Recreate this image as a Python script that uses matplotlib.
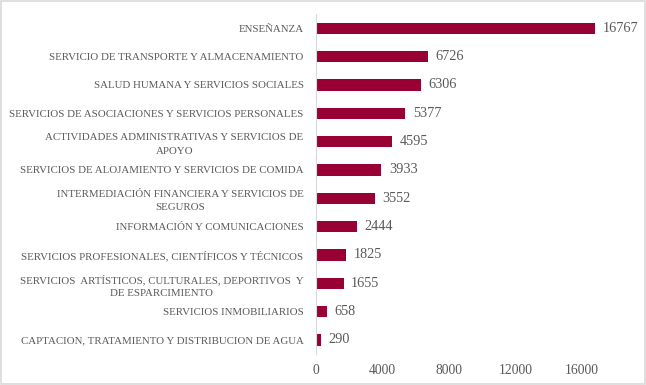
import matplotlib
matplotlib.use("Agg")
import matplotlib.pyplot as plt

categories = [
    "ENSEÑANZA",
    "SERVICIO DE TRANSPORTE Y ALMACENAMIENTO",
    "SALUD HUMANA Y SERVICIOS SOCIALES",
    "SERVICIOS DE ASOCIACIONES Y SERVICIOS PERSONALES",
    "ACTIVIDADES ADMINISTRATIVAS Y SERVICIOS DE\nAPOYO",
    "SERVICIOS DE ALOJAMIENTO Y SERVICIOS DE COMIDA",
    "INTERMEDIACIÓN FINANCIERA Y SERVICIOS DE\nSEGUROS",
    "INFORMACIÓN Y COMUNICACIONES",
    "SERVICIOS PROFESIONALES, CIENTÍFICOS Y TÉCNICOS",
    "SERVICIOS  ARTÍSTICOS, CULTURALES, DEPORTIVOS  Y\nDE ESPARCIMIENTO",
    "SERVICIOS INMOBILIARIOS",
    "CAPTACION, TRATAMIENTO Y DISTRIBUCION DE AGUA",
]
values = [16767, 6726, 6306, 5377, 4595, 3933, 3552, 2444, 1825, 1655, 658, 290]
xticks = [0, 4000, 8000, 12000, 16000]

bar_color = "#990033"
text_color = "#595959"

plt.rcParams["font.family"] = ["Liberation Serif", "DejaVu Serif"]

fig = plt.figure(figsize=(6.46, 3.85), dpi=100)
ax = fig.add_axes([316 / 646, 1 - 354 / 385, (627 - 316) / 646, (354 - 14) / 385])

pos = list(range(len(categories)))
ax.barh(pos, values, height=0.4, color=bar_color)
ax.set_ylim(len(categories) - 0.5, -0.5)
ax.set_xlim(0, 18700)

ax.set_yticks(pos)
ax.set_yticklabels(categories, fontsize=7.8, color=text_color)
for lbl in ax.get_yticklabels():
    lbl.set_multialignment("center")
    lbl.set_linespacing(1.6)
ax.set_xticks(xticks)
ax.set_xticklabels([str(t) for t in xticks], fontsize=9.8, color=text_color)
ax.tick_params(axis="y", length=0, pad=9)
ax.tick_params(axis="x", length=0, pad=7)

for s in ["top", "right", "bottom"]:
    ax.spines[s].set_visible(False)
ax.spines["left"].set_color("#d9d9d9")
ax.spines["left"].set_linewidth(0.8)

for p, v in zip(pos, values):
    ax.text(v + 450, p, str(v), va="center", ha="left", fontsize=10.3, color=text_color)

# border around the figure
fig.patches.append(plt.Rectangle((0.002, 0.003), 0.996, 0.994, transform=fig.transFigure,
                                 fill=False, edgecolor="#d9d9d9", linewidth=1.2))

fig.savefig("out.png", dpi=100)
